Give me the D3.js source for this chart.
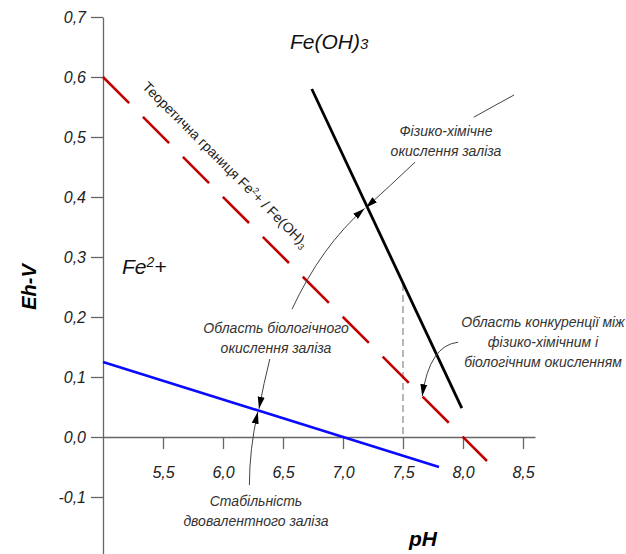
<!DOCTYPE html>
<html>
<head>
<meta charset="utf-8">
<script src="https://cdn.jsdelivr.net/npm/d3@7"></script>
<style>
  body { margin: 0; background: #fff; }
  svg text { font-family: "Liberation Sans", Arial, sans-serif; }
</style>
</head>
<body>
<div id="chart"></div>
<script>
// pH ticks and Eh ticks
const xTicks = [5.5, 6.0, 6.5, 7.0, 7.5, 8.0, 8.5];
const yTicks = [-0.1, 0.0, 0.1, 0.2, 0.3, 0.4, 0.5, 0.6, 0.7];

// lines [pH, Eh]
const boundaryLine = [[5.0, 0.6], [8.2, -0.04]];   // theoretical Fe2+/Fe(OH)3
const bioLine = [[5.0, 0.125], [7.8, -0.05]];      // blue
const chemLine = [[6.74, 0.58], [7.99, 0.048]];    // black
const dropLine = [[7.5, 0.255], [7.5, 0.0]];       // gray dashed

const width = 626, height = 554;

let svg = d3.select("#chart").append("svg")
    .attr("width", width)
    .attr("height", height);

let x = d3.scaleLinear().domain([5.0, 8.6]).range([103, 535]);
let y = d3.scaleLinear().domain([-0.2, 0.7]).range([557, 17]);

// comma decimals, plain hyphen for minus
let fmt = d => d.toFixed(1).replace(".", ",");

//arrow marker
svg.append("defs").append("marker")
    .attr("id", "arrow")
    .attr("viewBox", "0 -4 12 8")
    .attr("refX", 12)
    .attr("refY", 0)
    .attr("markerUnits", "userSpaceOnUse")
    .attr("markerWidth", 12)
    .attr("markerHeight", 8)
    .attr("orient", "auto")
    .append("path")
    .attr("d", "M0,-3.5L12,0L0,3.5Z")
    .attr("fill", "#000");

///////// Axes //////////////
let yAxis = svg.append("g")
    .attr("transform", "translate(" + x(5.0) + ",0)")
    .call(d3.axisLeft(y).tickValues(yTicks).tickFormat(fmt).tickSize(12).tickSizeOuter(0).tickPadding(5));

let xAxis = svg.append("g")
    .attr("transform", "translate(0," + y(0) + ")")
    .call(d3.axisBottom(x).tickValues(xTicks).tickFormat(fmt).tickSize(12).tickSizeOuter(0).tickPadding(15));

[yAxis, xAxis].forEach(a => {
    a.selectAll("path, line").attr("stroke", "#666").attr("stroke-width", 1.3);
    a.selectAll("text")
        .attr("font-size", 16)
        .attr("font-style", "italic")
        .attr("fill", "#222");
});
xAxis.selectAll("text").attr("dy", "0.9em");

svg.append("text")
    .attr("transform", "translate(36," + y(0.25) + ") rotate(-90)")
    .attr("text-anchor", "middle")
    .attr("font-size", 20)
    .attr("font-weight", "bold")
    .attr("font-style", "italic")
    .text("Eh-V");

svg.append("text")
    .attr("x", 423)
    .attr("y", 546)
    .attr("text-anchor", "middle")
    .attr("font-size", 21)
    .attr("font-weight", "bold")
    .attr("font-style", "italic")
    .text("pH");

///////// Lines //////////////
let line = d3.line().x(d => x(d[0])).y(d => y(d[1]));

svg.append("path")
    .datum(dropLine)
    .attr("d", line)
    .attr("fill", "none")
    .attr("stroke", "#888")
    .attr("stroke-width", 1.2)
    .attr("stroke-dasharray", "7,4");

svg.append("path")
    .datum(boundaryLine)
    .attr("d", line)
    .attr("fill", "none")
    .attr("stroke", "#c00000")
    .attr("stroke-width", 2.6)
    .attr("stroke-dasharray", "37,19.5");

svg.append("path")
    .datum(bioLine)
    .attr("d", line)
    .attr("fill", "none")
    .attr("stroke", "#0a0aff")
    .attr("stroke-width", 2.6);

svg.append("path")
    .datum(chemLine)
    .attr("d", line)
    .attr("fill", "none")
    .attr("stroke", "#000")
    .attr("stroke-width", 2.8);

///////// Labels //////////////
let feoh = svg.append("text")
    .attr("x", 290)
    .attr("y", 49)
    .attr("font-size", 21)
    .attr("font-style", "italic")
    .attr("fill", "#111");
feoh.append("tspan").text("Fe(OH)");
feoh.append("tspan").attr("font-size", 15).text("3");

let fe2 = svg.append("text")
    .attr("x", 122)
    .attr("y", 274)
    .attr("font-size", 21)
    .attr("font-style", "italic")
    .attr("fill", "#111");
fe2.append("tspan").text("Fe");
fe2.append("tspan").attr("font-size", 14).attr("dy", -7).text("2");
fe2.append("tspan").attr("dy", 7).text("+");

let theo = svg.append("text")
    .attr("transform", "translate(222,168) rotate(45)")
    .attr("text-anchor", "middle")
    .attr("font-size", 14)
    .attr("fill", "#222");
theo.append("tspan").text("Теоретична границя Fe");
theo.append("tspan").attr("font-size", 9).attr("dy", -5).text("2");
theo.append("tspan").attr("dy", 5).text("+ / Fe(OH)");
theo.append("tspan").attr("font-size", 9).attr("dy", 3).text("3");

// annotation text blocks
let notes = [
    {x: 446, y: 136, lines: ["Фізико-хімічне", "окислення заліза"]},
    {x: 276, y: 333, lines: ["Область біологічного", "окислення заліза"]},
    {x: 256, y: 506, lines: ["Стабільність", "двовалентного заліза"]},
    {x: 543, y: 327, lines: ["Область конкуренції між", "фізико-хімічним і", "біологічним окисленням"]}
];

notes.forEach(n => {
    let t = svg.append("text")
        .attr("text-anchor", "middle")
        .attr("font-size", 14)
        .attr("font-style", "italic")
        .attr("fill", "#333");
    n.lines.forEach((l, i) => {
        t.append("tspan").attr("x", n.x).attr("y", n.y + i * 20).text(l);
    });
});

// pointers: [start, control, tip] in pH / Eh
let pointers = [
    {pts: [[7.6, 0.458], [7.4, 0.42], [7.19, 0.382]], arrow: true},
    {pts: [[6.575, 0.213], [6.82, 0.318], [7.18, 0.381]], arrow: true},
    {pts: [[6.39, 0.13], [6.34, 0.09], [6.3, 0.047]], arrow: true},
    {pts: [[6.22, -0.08], [6.22, -0.02], [6.29, 0.042]], arrow: true},
    {pts: [[7.96, 0.158], [7.72, 0.153], [7.66, 0.068]], arrow: true},
    {pts: [[8.09, 0.533], [8.26, 0.552], [8.425, 0.57]], arrow: false}
];

pointers.forEach(p => {
    let [a, c, b] = p.pts;
    let path = svg.append("path")
        .attr("d", "M" + x(a[0]) + "," + y(a[1]) +
                   "Q" + x(c[0]) + "," + y(c[1]) + " " + x(b[0]) + "," + y(b[1]))
        .attr("fill", "none")
        .attr("stroke", "#444")
        .attr("stroke-width", 1);
    if (p.arrow) path.attr("marker-end", "url(#arrow)");
});
</script>
</body>
</html>
